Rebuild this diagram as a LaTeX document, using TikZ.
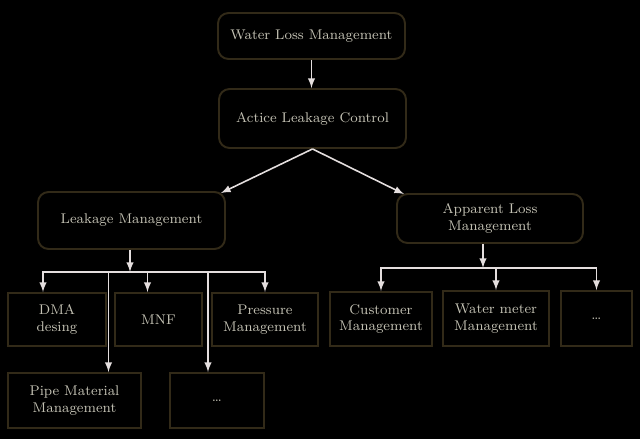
\documentclass[tikz,border=0pt]{standalone}
\usepackage{tikz}
\usetikzlibrary{calc}
\definecolor{boxline}{RGB}{50,42,24}
\definecolor{boxtext}{RGB}{196,194,180}
\definecolor{wire}{RGB}{228,222,222}
\begin{document}
\begin{tikzpicture}
[x=0.02cm,y=-0.02cm,>=latex,
 rbox/.style={draw=boxline,line width=1.1pt,rounded corners=6pt,text=boxtext,align=center,inner sep=2pt},
 sbox/.style={draw=boxline,line width=1.1pt,text=boxtext,align=center,inner sep=2pt},
 wire/.style={draw=wire,line width=0.9pt,->}]
\fill[black] (0,0) rectangle (640,439);
\path[use as bounding box] (0,0) rectangle (640,439);
\footnotesize
% top of the tree
\node[rbox,minimum width=3.74cm,minimum height=0.92cm] (wlm) at (311.5,36) {Water Loss Management};
\node[rbox,minimum width=3.74cm,minimum height=1.18cm] (alc) at (312.5,118.5) {Actice Leakage Control};
\node[rbox,minimum width=3.74cm,minimum height=1.14cm] (lm) at (131.5,220.5) {Leakage Management};
\node[rbox,minimum width=3.72cm,minimum height=0.98cm] (alm) at (490,218.5) {Apparent Loss\\Management};
% leakage side
\node[sbox,minimum width=1.96cm,minimum height=1.06cm] (dma) at (57,319.5) {DMA\\desing};
\node[sbox,minimum width=1.74cm,minimum height=1.06cm] (mnf) at (158.5,319.5) {MNF};
\node[sbox,minimum width=2.12cm,minimum height=1.06cm] (pres) at (265,319.5) {Pressure\\Management};
\node[sbox,minimum width=2.66cm,minimum height=1.1cm] (pipe) at (74.5,400.5) {Pipe Material\\Management};
\node[sbox,minimum width=1.88cm,minimum height=1.1cm] (lmore) at (217,400.5) {\dots};
% apparent loss side
\node[sbox,minimum width=2.04cm,minimum height=1.08cm] (cust) at (381,319) {Customer\\Management};
\node[sbox,minimum width=2.12cm,minimum height=1.1cm] (meter) at (496,318.5) {Water meter\\Management};
\node[sbox,minimum width=1.42cm,minimum height=1.1cm] (amore) at (596.5,318.5) {\dots};
% connectors
\coordinate (lbus) at (130,272);
\coordinate (abus) at (483,268);
\draw[wire] (wlm.south) -- (wlm.south |- alc.north);
\draw[wire] (alc.south) -- ($(lm.north east)+(-5,2)$);
\draw[wire] (alc.south) -- ($(alm.north west)+(8,1)$);
\draw[wire] (lm.south -| lbus) -- (lbus);
\draw[wire] (lbus) -| ($(dma.north)+(-14,0)$);
\draw[wire] (lbus) -| ($(mnf.north)+(-11,0)$);
\draw[wire] (lbus) -| (pres.north);
\draw[wire] (lbus) -| ($(pipe.north)+(34,0)$);
\draw[wire] (lbus) -| ($(lmore.north)+(-9,0)$);
\draw[wire] (alm.south -| abus) -- (abus);
\draw[wire] (abus) -| (cust.north);
\draw[wire] (abus) -| (meter.north);
\draw[wire] (abus) -| (amore.north);
\end{tikzpicture}
\end{document}
